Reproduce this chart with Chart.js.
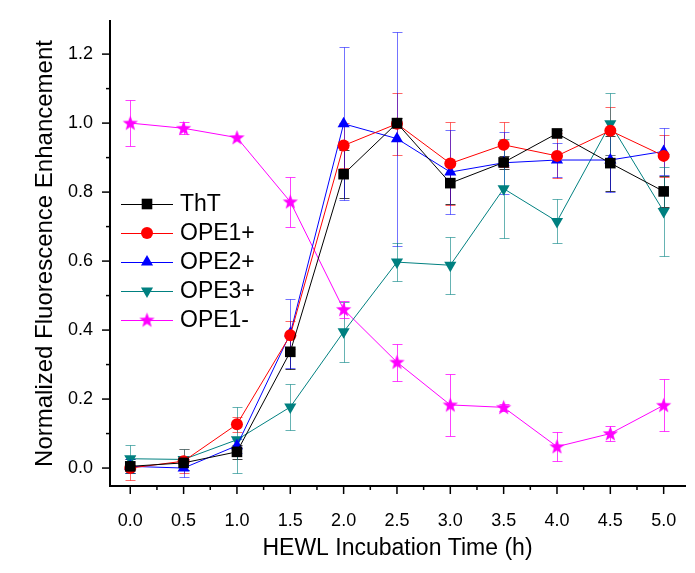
<!DOCTYPE html>
<html>
<head>
<meta charset="utf-8">
<title>HEWL fluorescence</title>
<script src="https://cdn.jsdelivr.net/npm/chart.js@4.4.0/dist/chart.umd.min.js"></script>
<style>
  html, body { margin: 0; padding: 0; background: #fff; }
  #wrap { width: 695px; height: 573px; }
</style>
</head>
<body>
<div id="wrap"><canvas id="chart" width="695" height="573"></canvas></div>
<script>
// data
const times = [0, 0.5, 1.0, 1.5, 2.0, 2.5, 3.0, 3.5, 4.0, 4.5, 5.0];

const thtValues  = [0.005, 0.015, 0.047, 0.337, 0.852, 1.000, 0.826, 0.886, 0.970, 0.884, 0.802];
const thtErrors  = [0.020, 0.020, 0.020, 0.050, 0.070, 0.015, 0.060, 0.020, 0.010, 0.080, 0.045];

const ope1pValues = [0.000, 0.020, 0.127, 0.385, 0.935, 0.998, 0.883, 0.937, 0.905, 0.978, 0.905];
const ope1pErrors = [0.035, 0.035, 0.022, 0.040, 0.065, 0.090, 0.120, 0.065, 0.065, 0.070, 0.060];

const ope2pValues = [0.005, 0.000, 0.065, 0.390, 0.998, 0.955, 0.858, 0.885, 0.893, 0.893, 0.918];
const ope2pErrors = [0.020, 0.025, 0.020, 0.100, 0.222, 0.310, 0.122, 0.090, 0.050, 0.093, 0.067];

const ope3pValues = [0.027, 0.025, 0.082, 0.177, 0.395, 0.597, 0.588, 0.810, 0.715, 0.998, 0.744];
const ope3pErrors = [0.040, 0.030, 0.095, 0.066, 0.087, 0.056, 0.083, 0.144, 0.064, 0.090, 0.130];

const ope1mValues = [1.000, 0.985, 0.958, 0.772, 0.460, 0.307, 0.183, 0.176, 0.062, 0.100, 0.182];
const ope1mErrors = [0.067, 0.017, 0.000, 0.072, 0.025, 0.054, 0.090, 0.010, 0.042, 0.022, 0.075];

const xTicks = [0, 0.5, 1.0, 1.5, 2.0, 2.5, 3.0, 3.5, 4.0, 4.5, 5.0];
const yTicks = [0, 0.2, 0.4, 0.6, 0.8, 1.0, 1.2];

const FONT = 'Arial, "Liberation Sans", sans-serif';

// filled five point star used as point style
function makeStar(color) {
  const c = document.createElement('canvas');
  c.width = 17; c.height = 17;
  const g = c.getContext('2d');
  g.fillStyle = color;
  g.beginPath();
  for (let i = 0; i < 10; i++) {
    const r = i % 2 === 0 ? 8 : 3.3;
    const a = -Math.PI / 2 + i * Math.PI / 5;
    const px = 8.5 + r * Math.cos(a);
    const py = 9 + r * Math.sin(a);
    if (i === 0) g.moveTo(px, py); else g.lineTo(px, py);
  }
  g.closePath();
  g.fill();
  return c;
}

const series = [
  { label: 'ThT',   values: thtValues,   errors: thtErrors,   color: '#000000', err: 'rgba(0,0,0,0.75)',     style: 'rect',     radius: 7.5, rotation: 0 },
  { label: 'OPE1+', values: ope1pValues, errors: ope1pErrors, color: '#ff0000', err: 'rgba(255,0,0,0.6)',    style: 'circle',   radius: 6,   rotation: 0 },
  { label: 'OPE2+', values: ope2pValues, errors: ope2pErrors, color: '#0000ff', err: 'rgba(0,0,255,0.55)',   style: 'triangle', radius: 7,   rotation: 0 },
  { label: 'OPE3+', values: ope3pValues, errors: ope3pErrors, color: '#008080', err: 'rgba(0,128,128,0.6)',  style: 'triangle', radius: 7,   rotation: 180 },
  { label: 'OPE1-', values: ope1mValues, errors: ope1mErrors, color: '#ff00ff', err: 'rgba(255,0,255,0.75)', style: makeStar('#ff00ff'), radius: 8, rotation: 0 }
];

const datasets = series.map(s => ({
  label: s.label,
  data: times.map((t, i) => ({ x: t, y: s.values[i] })),
  errors: s.errors,
  errorColor: s.err,
  borderColor: s.color,
  backgroundColor: s.color,
  borderWidth: 1,
  pointStyle: s.style,
  pointRadius: s.radius,
  pointRotation: s.rotation,
  pointBorderWidth: 0,
  pointBackgroundColor: s.color,
  tension: 0
}));

// vertical error bars with caps, drawn under the markers
const errorBars = {
  id: 'errorBars',
  beforeDatasetsDraw(chart) {
    const { ctx, scales: { x, y } } = chart;
    ctx.save();
    ctx.lineWidth = 1;
    chart.data.datasets.forEach(ds => {
      ctx.strokeStyle = ds.errorColor;
      ds.data.forEach((p, j) => {
        const e = ds.errors[j];
        if (!e) return;
        const px = Math.round(x.getPixelForValue(p.x)) + 0.5;
        const top = Math.round(y.getPixelForValue(p.y + e)) + 0.5;
        const bot = Math.round(y.getPixelForValue(p.y - e)) + 0.5;
        ctx.beginPath();
        ctx.moveTo(px, top); ctx.lineTo(px, bot);
        ctx.moveTo(px - 5, top); ctx.lineTo(px + 5, top);
        ctx.moveTo(px - 5, bot); ctx.lineTo(px + 5, bot);
        ctx.stroke();
      });
    });
    ctx.restore();
  }
};

// outward major and minor tick marks
const tickMarks = {
  id: 'tickMarks',
  afterDraw(chart) {
    const { ctx, scales: { x, y }, chartArea } = chart;
    ctx.save();
    ctx.strokeStyle = '#000';
    ctx.lineWidth = 1.5;
    for (let k = -1; k <= 21; k++) {
      const v = k * 0.25;
      if (v < x.min || v > x.max) continue;
      const major = k % 2 === 0;
      const px = x.getPixelForValue(v);
      ctx.beginPath();
      ctx.moveTo(px, chartArea.bottom);
      ctx.lineTo(px, chartArea.bottom + (major ? 8 : 4));
      ctx.stroke();
    }
    for (let k = 0; k <= 13; k++) {
      const v = k * 0.1;
      if (v > y.max + 1e-9) break;
      const major = k % 2 === 0;
      const py = y.getPixelForValue(v);
      ctx.beginPath();
      ctx.moveTo(chartArea.left, py);
      ctx.lineTo(chartArea.left - (major ? 8 : 4), py);
      ctx.stroke();
    }
    ctx.restore();
  }
};

// legend with line + marker sample, placed inside the plot
const lineLegend = {
  id: 'lineLegend',
  afterDraw(chart) {
    const { ctx } = chart;
    ctx.save();
    ctx.font = '23px ' + FONT;
    ctx.textBaseline = 'middle';
    chart.data.datasets.forEach((ds, i) => {
      const ly = 204 + i * 29;
      ctx.strokeStyle = ds.borderColor;
      ctx.lineWidth = 1;
      ctx.beginPath();
      ctx.moveTo(121, ly + 0.5);
      ctx.lineTo(173, ly + 0.5);
      ctx.stroke();
      ctx.fillStyle = ds.pointBackgroundColor;
      Chart.helpers.drawPoint(ctx, {
        pointStyle: ds.pointStyle,
        radius: ds.pointRadius,
        rotation: ds.pointRotation,
        borderWidth: 0
      }, 147, ly);
      ctx.fillStyle = '#000';
      ctx.fillText(ds.label, 180, ly + 1);
    });
    ctx.restore();
  }
};

new Chart(document.getElementById('chart'), {
  type: 'line',
  data: { datasets },
  options: {
    responsive: false,
    animation: false,
    layout: { padding: { top: 21, right: 10, left: 0, bottom: 0 } },
    plugins: {
      legend: { display: false },
      tooltip: { enabled: false }
    },
    scales: {
      x: {
        type: 'linear',
        min: -0.19,
        max: 5.2,
        afterFit: s => { s.height = 87; },
        afterBuildTicks: s => { s.ticks = xTicks.map(v => ({ value: v })); },
        grid: { display: false, tickLength: 8 },
        border: { display: true, color: '#000', width: 2 },
        ticks: {
          padding: 16,
          color: '#000',
          font: { size: 18, family: FONT },
          maxRotation: 0,
          callback: v => v.toFixed(1)
        },
        title: {
          display: true,
          text: 'HEWL Incubation Time (h)',
          color: '#000',
          font: { size: 23, family: FONT },
          padding: { top: 0, bottom: 11 }
        }
      },
      y: {
        min: -0.052,
        max: 1.296,
        afterFit: s => { s.width = 110; },
        afterBuildTicks: s => { s.ticks = yTicks.map(v => ({ value: v })); },
        grid: { display: false, tickLength: 8 },
        border: { display: true, color: '#000', width: 2 },
        ticks: {
          padding: 9,
          color: '#000',
          font: { size: 18, family: FONT },
          callback: v => v.toFixed(1)
        },
        title: {
          display: true,
          text: 'Normalized Fluorescence Enhancement',
          color: '#000',
          font: { size: 24, family: FONT },
          padding: { top: 31, bottom: 0 }
        }
      }
    }
  },
  plugins: [errorBars, tickMarks, lineLegend]
});
</script>
</body>
</html>
